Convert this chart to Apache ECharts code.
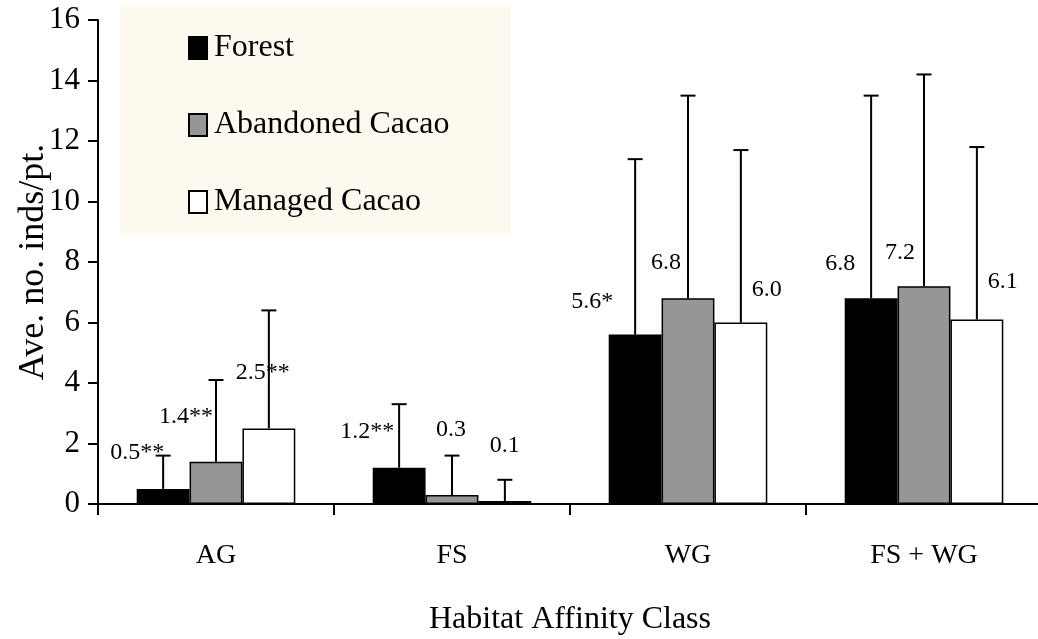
<!DOCTYPE html>
<html>
<head>
<meta charset="utf-8">
<script src="https://cdn.jsdelivr.net/npm/echarts@6/dist/echarts.min.js"></script>
<style>
html,body{margin:0;padding:0;background:#fff;}
#chart{width:1038px;height:639px;}
</style>
</head>
<body>
<div id="chart"></div>
<script>
// ---- data ----
const categories = ['AG', 'FS', 'WG', 'FS + WG'];
const seriesNames = ['Forest', 'Abandoned Cacao', 'Managed Cacao'];
const forest = [0.5, 1.2, 5.6, 6.8];
const abandoned = [1.4, 0.3, 6.8, 7.2];
const managed = [2.5, 0.1, 6.0, 6.1];
const forestErr = [1.1, 2.1, 5.8, 6.7];
const abandonedErr = [2.7, 1.3, 6.7, 7.0];
const managedErr = [3.9, 0.7, 5.7, 5.7];
const forestSig = ['**', '**', '*', ''];
const abandonedSig = ['**', '', '', ''];
const managedSig = ['**', '', '', ''];
const yTicks = { min: 0, max: 16, interval: 2 };

// ---- style / placement (not data) ----
const FONT = 'Liberation Serif';
const colors = ['#000000', '#969696', '#ffffff'];
const labelOffsets = [
  [[-26, -36], [-32, -36], [-43, -33], [-31, -35]],
  [[-30, -45], [-1, -65], [-22, -36], [-24, -33]],
  [[-6, -56], [0, -55], [26, -33], [26, -38]]
];
const BAR_FRAC = 0.224;

const values = [forest, abandoned, managed];
const errs = [forestErr, abandonedErr, managedErr];
const sigs = [forestSig, abandonedSig, managedSig];

const chart = echarts.init(document.getElementById('chart'));

const barSeries = seriesNames.map((name, s) => ({
  name: name,
  type: 'bar',
  data: values[s],
  barWidth: (BAR_FRAC * 100) + '%',
  barGap: '0%',
  itemStyle: { color: colors[s], borderColor: '#000', borderWidth: 1.5 },
  emphasis: { disabled: true },
  z: 2
}));

const errSeries = seriesNames.map((name, s) => ({
  type: 'custom',
  name: name + ' err',
  data: values[s].map((v, i) => [i, v, errs[s][i]]),
  encode: { x: 0, y: 1 },
  z: 5,
  silent: true,
  clip: false,
  renderItem: function (params, api) {
    const i = api.value(0);
    const v = api.value(1);
    const e = api.value(2);
    const band = api.size([1, 0])[0];
    const base = api.coord([i, v]);
    const top = api.coord([i, v + e]);
    const cx = base[0] + (s - 1) * band * BAR_FRAC;
    const off = labelOffsets[s][i];
    const half = 7.5;
    return {
      type: 'group',
      children: [
        { type: 'line', shape: { x1: cx, y1: base[1], x2: cx, y2: top[1] }, style: { stroke: '#000', lineWidth: 2 } },
        { type: 'line', shape: { x1: cx - half, y1: top[1], x2: cx + half, y2: top[1] }, style: { stroke: '#000', lineWidth: 2 } },
        { type: 'text', x: cx + off[0], y: base[1] + off[1],
          style: { text: v.toFixed(1) + sigs[s][i], fill: '#000', font: '24px "' + FONT + '"', align: 'center', verticalAlign: 'middle' } }
      ]
    };
  }
}));

chart.setOption({
  animation: false,
  backgroundColor: '#ffffff',
  textStyle: { fontFamily: FONT, color: '#000' },
  grid: { left: 98, top: 20, right: -4, bottom: 135, containLabel: false, outerBoundsMode: 'none' },
  legend: {
    data: seriesNames,
    orient: 'vertical',
    left: 120,
    top: 5,
    backgroundColor: '#FEF9EE',
    padding: [27, 61, 17, 68],
    itemGap: 45,
    itemWidth: 18,
    itemHeight: 22,
    icon: 'rect',
    selectedMode: false,
    textStyle: { fontFamily: FONT, fontSize: 32, color: '#000', lineHeight: 22, padding: [0, 0, 0, 2] }
  },
  xAxis: {
    type: 'category',
    data: categories,
    name: 'Habitat Affinity Class',
    nameLocation: 'middle',
    nameGap: 100,
    nameTextStyle: { fontFamily: FONT, fontSize: 32, color: '#000' },
    axisLine: { lineStyle: { color: '#000', width: 2 } },
    axisTick: { show: true, length: 11, lineStyle: { color: '#000', width: 2 } },
    axisLabel: { fontFamily: FONT, fontSize: 28, color: '#000', margin: 38 },
    splitLine: { show: false }
  },
  yAxis: {
    type: 'value',
    min: yTicks.min,
    max: yTicks.max,
    interval: yTicks.interval,
    name: 'Ave. no. inds/pt.',
    nameLocation: 'middle',
    nameGap: 46,
    nameMoveOverlap: false,
    nameTextStyle: { fontFamily: FONT, fontSize: 36, color: '#000' },
    axisLine: { show: true, lineStyle: { color: '#000', width: 2 } },
    axisTick: { show: true, length: 10, lineStyle: { color: '#000', width: 2 } },
    axisLabel: { fontFamily: FONT, fontSize: 31, color: '#000', margin: 18 },
    splitLine: { show: false }
  },
  series: barSeries.concat(errSeries)
});
</script>
</body>
</html>
